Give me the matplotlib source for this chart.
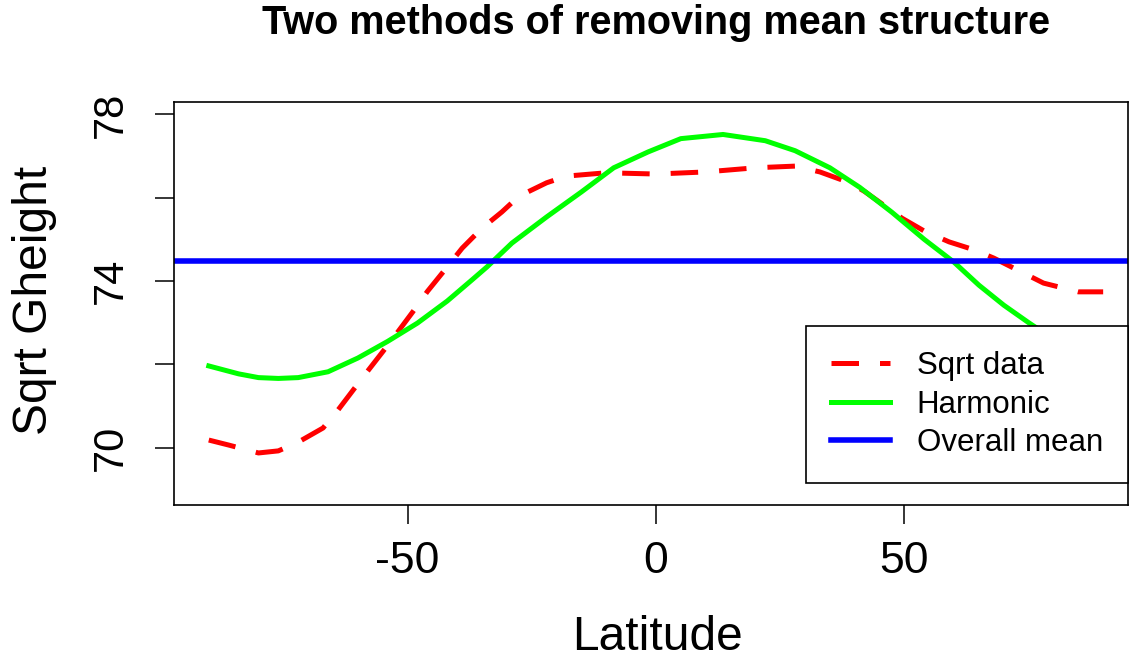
import matplotlib
matplotlib.use("Agg")
import matplotlib.pyplot as plt

# latitude / value pairs
sqrt_lat = [-90, -86, -80, -76, -72, -67, -64, -60.5, -58, -55, -52, -49, -46,
            -42, -39, -35, -31, -29, -27, -22, -18, -10, 0, 10, 20, 28, 33, 39, 42,
            49.5, 54, 59, 64, 68, 73, 78, 85, 90]
sqrt_val = [70.18, 70.06, 69.87, 69.92, 70.13, 70.47, 70.90, 71.45, 71.84, 72.30,
            72.77, 73.25, 73.75, 74.34, 74.79, 75.27, 75.66, 75.88, 76.07, 76.36,
            76.52, 76.60, 76.57, 76.62, 76.72, 76.76, 76.62, 76.36, 76.15, 75.51,
            75.20, 74.94, 74.75, 74.55, 74.25, 73.95, 73.74, 73.74]

harm_lat = [-90, -84, -80, -76, -72, -66, -60, -54, -48, -42, -37, -34, -29, -22,
            -15, -8.5, -1.6, 5, 13.5, 22, 28, 35, 41, 47.5, 54, 60, 65, 70, 75,
            80, 85, 90]
harm_val = [71.96, 71.77, 71.68, 71.66, 71.68, 71.82, 72.15, 72.55, 72.99, 73.52,
            74.03, 74.34, 74.91, 75.54, 76.14, 76.72, 77.10, 77.42, 77.52, 77.37,
            77.13, 76.72, 76.25, 75.65, 75.00, 74.45, 73.90, 73.42, 73.00, 72.60,
            72.25, 71.96]

overall_mean = 74.48

x_ticks = [-50, 0, 50]
y_ticks = [70, 72, 74, 76, 78]
y_ticklabels = ["70", "", "74", "", "78"]

plt.rcParams["font.family"] = ["Liberation Sans", "DejaVu Sans"]

W, H = 1129, 662
fig = plt.figure(figsize=(W / 100, H / 100), dpi=100)
left, right, top, bottom = 174, 1128, 102, 505
ax = fig.add_axes([left / W, 1 - bottom / H, (right - left) / W, (bottom - top) / H])

ax.plot(sqrt_lat, sqrt_val, color="#FF0000", lw=3.6, dashes=(5.5, 4.2),
        dash_capstyle="butt", label="Sqrt data")
ax.plot(harm_lat, harm_val, color="#00FF00", lw=3.6, label="Harmonic")
ax.axhline(overall_mean, color="#0000FF", lw=4, label="Overall mean")

ax.set_xlim(-97.0, 95.0)
ax.set_ylim(68.62, 78.30)
ax.set_xticks(x_ticks)
ax.set_xticklabels([str(t) for t in x_ticks])
ax.set_yticks(y_ticks)
ax.set_yticklabels(y_ticklabels, rotation=90, va="center")
ax.tick_params(axis="both", length=14, width=1.1, direction="out")
ax.tick_params(axis="x", pad=12, labelsize=32)
ax.tick_params(axis="y", pad=17, labelsize=30)
for s in ax.spines.values():
    s.set_linewidth(1.2)
    s.set_color("black")

fig.text(656 / W, 1 - 23 / H, "Two methods of removing mean structure",
         ha="center", va="center", fontsize=28.5, fontweight="bold")
fig.text(657 / W, 1 - 637 / H, "Latitude", ha="center", va="center", fontsize=34.5)
fig.text(35 / W, 1 - 300 / H, "Sqrt Gheight", ha="center", va="center",
         fontsize=34.5, rotation=90)

leg = ax.legend(loc="lower right", bbox_to_anchor=(1128 / W, 1 - 483 / H),
                bbox_transform=fig.transFigure, fontsize=22.5, frameon=True,
                fancybox=False, framealpha=1, edgecolor="black",
                borderaxespad=0, borderpad=0.8, handlelength=1.9,
                handletextpad=0.85, labelspacing=0.27)
leg.get_frame().set_linewidth(1.2)

fig.savefig("out.png", dpi=100)
